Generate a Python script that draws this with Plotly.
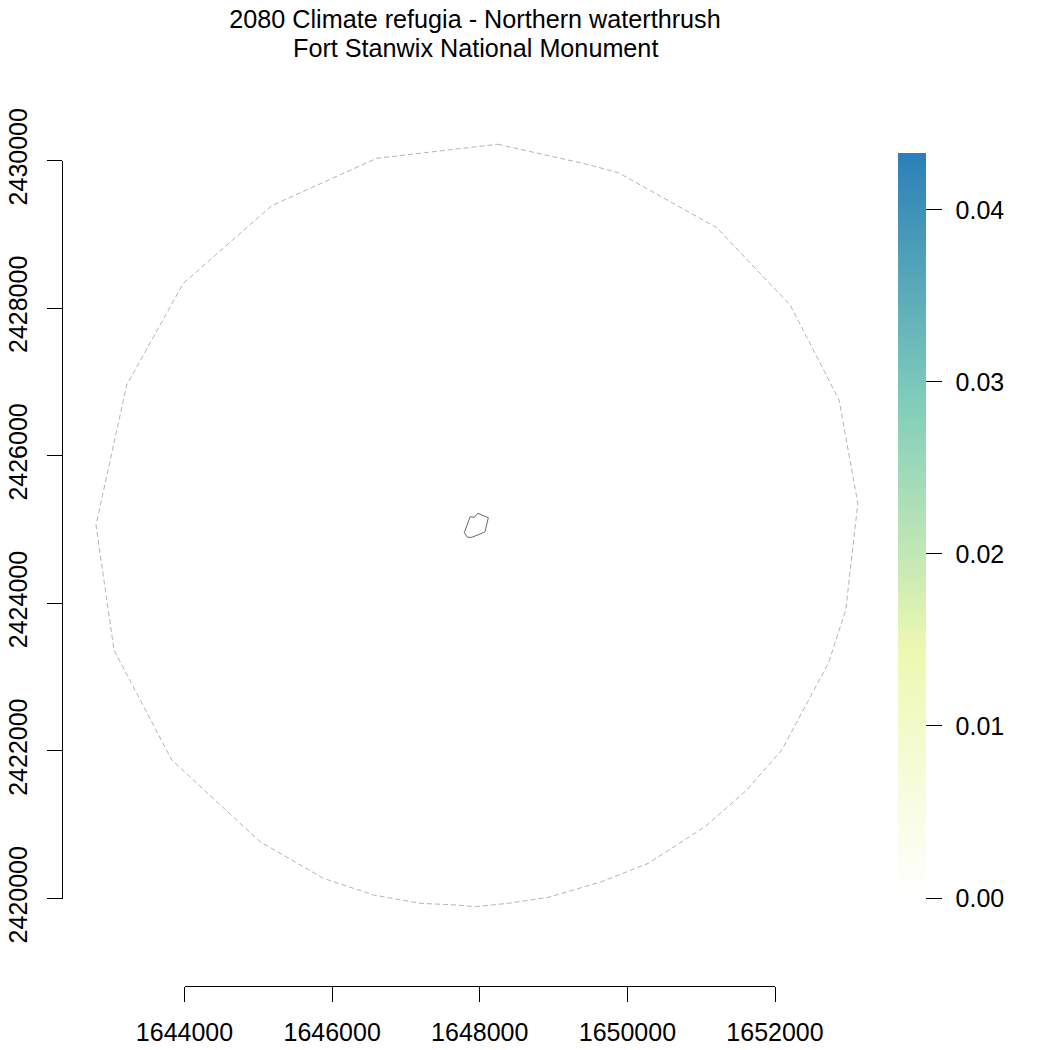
import plotly.graph_objects as go

# buffer outline around the park
buffer_x = [1648244, 1649450, 1649878, 1651211, 1652205, 1652868, 1653122, 1652959,
            1652723, 1652092, 1651618, 1651053, 1650284, 1649653, 1648929, 1648387,
            1647936, 1647688, 1647191, 1646558, 1645881, 1645023, 1643827, 1643045,
            1642801, 1643217, 1643984, 1645182, 1646604, 1648244]
buffer_y = [2430220, 2429949, 2429835, 2429089, 2428042, 2426755, 2425355, 2423909,
            2423187, 2422012, 2421470, 2420973, 2420477, 2420228, 2420016, 2419935,
            2419889, 2419912, 2419935, 2420048, 2420274, 2420770, 2421877, 2423367,
            2425061, 2426958, 2428336, 2429388, 2430030, 2430220]

# park boundary
park_x = [1647973, 1648116, 1648072, 1648049, 1647892, 1647832, 1647791, 1647869, 1647927, 1647973]
park_y = [2425220, 2425160, 2424970, 2424957, 2424894, 2424894, 2424957, 2425173, 2425165, 2425220]

x_ticks = [1644000, 1646000, 1648000, 1650000, 1652000]
y_ticks = [2420000, 2422000, 2424000, 2426000, 2428000, 2430000]
bar_step = 0.01
bar_max = 0.0433

raster_x = [1648000]
raster_y = [2425000]
raster_values = [0.0]

ramp = [[0, '#ffffff'], [1 / 3, '#edf8b1'], [2 / 3, '#7fcdbb'], [1, '#2c7fb8']]

W = 1050
FONT = 'Liberation Sans'
TICK_SIZE = 25

# where the axis ends sit on the page
X_LEFT, X_RIGHT = 184.5, 775.0
Y_TOP, Y_BOTTOM = 160.5, 898.5


def px(p):
    return p / W


def py(p):
    return 1 - p / W


# the outline runs past the tick span, so it sits on a full-page pair of hidden axes
x_per_px = (x_ticks[-1] - x_ticks[0]) / (X_RIGHT - X_LEFT)
y_per_px = (y_ticks[-1] - y_ticks[0]) / (Y_BOTTOM - Y_TOP)
full_x = [x_ticks[0] - X_LEFT * x_per_px, x_ticks[0] + (W - X_LEFT) * x_per_px]
full_y = [y_ticks[-1] - (W - Y_TOP) * y_per_px, y_ticks[-1] + Y_TOP * y_per_px]

fig = go.Figure()

fig.add_trace(go.Scatter(
    x=buffer_x, y=buffer_y, mode='lines', showlegend=False,
    line=dict(color='#b4b4b4', width=1, dash='5px,3px'),
))

fig.add_trace(go.Scatter(
    x=park_x, y=park_y, mode='lines', showlegend=False,
    line=dict(color='#666666', width=1),
))

fig.add_trace(go.Scatter(
    x=raster_x, y=raster_y, xaxis='x2', yaxis='y2', mode='markers', showlegend=False,
    marker=dict(
        size=1, color=raster_values, colorscale=ramp, cmin=0, cmax=bar_max, showscale=True,
        colorbar=dict(
            x=px(898), xanchor='left', xpad=0,
            y=py(153), yanchor='top', ypad=0,
            lenmode='pixels', len=745, thickness=28, outlinewidth=0, borderwidth=0,
            tickmode='linear', tick0=0, dtick=bar_step, tickformat='.2f', tickprefix='\u00a0\u200a',
            ticks='outside', ticklen=16, tickwidth=1, tickcolor='black',
            tickfont=dict(family=FONT, size=TICK_SIZE, color='black'),
        ),
    ),
))

fig.update_layout(
    width=W, height=W,
    margin=dict(l=0, r=0, t=0, b=0, autoexpand=False),
    paper_bgcolor='white', plot_bgcolor='rgba(0,0,0,0)',
    font=dict(family=FONT, color='black'),
    title=dict(
        text='2080 Climate refugia - Northern waterthrush',
        x=px(475), xanchor='center', xref='paper',
        y=py(19), yanchor='middle', yref='container',
        font=dict(family=FONT, size=25.2, color='black'),
    ),
    annotations=[dict(
        text='Fort Stanwix National Monument',
        x=px(475), xanchor='center', xref='paper',
        y=py(48), yanchor='middle', yref='paper',
        showarrow=False, font=dict(family=FONT, size=25.2, color='black'),
    )],
    xaxis=dict(domain=[0, 1], range=full_x, visible=False),
    yaxis=dict(domain=[0, 1], range=full_y, visible=False),
    xaxis2=dict(
        domain=[px(X_LEFT), px(X_RIGHT)], range=[x_ticks[0], x_ticks[-1]],
        anchor='free', position=py(986),
        showgrid=False, zeroline=False, showline=True, linecolor='black', linewidth=1,
        tickmode='array', tickvals=x_ticks, ticktext=[str(v) for v in x_ticks],
        ticks='outside', ticklen=15, tickwidth=1, tickcolor='black',
        tickfont=dict(family=FONT, size=TICK_SIZE, color='black'), tickangle=0,
        ticklabelstandoff=9, automargin=False,
    ),
    yaxis2=dict(
        domain=[py(Y_BOTTOM), py(Y_TOP)], range=[y_ticks[0], y_ticks[-1]],
        anchor='free', position=px(62),
        showgrid=False, zeroline=False, showline=True, linecolor='black', linewidth=1,
        tickmode='array', tickvals=y_ticks, ticktext=[str(v) for v in y_ticks],
        ticks='outside', ticklen=15, tickwidth=1, tickcolor='black',
        tickfont=dict(family=FONT, size=TICK_SIZE, color='black'), tickangle=-90,
        ticklabelstandoff=10, automargin=False,
    ),
)

# drop the browser's default body margin so the figure fills the window
fig.write_html("out.html", config={'displayModeBar': False},
               post_script="document.body.style.margin = '0';")
